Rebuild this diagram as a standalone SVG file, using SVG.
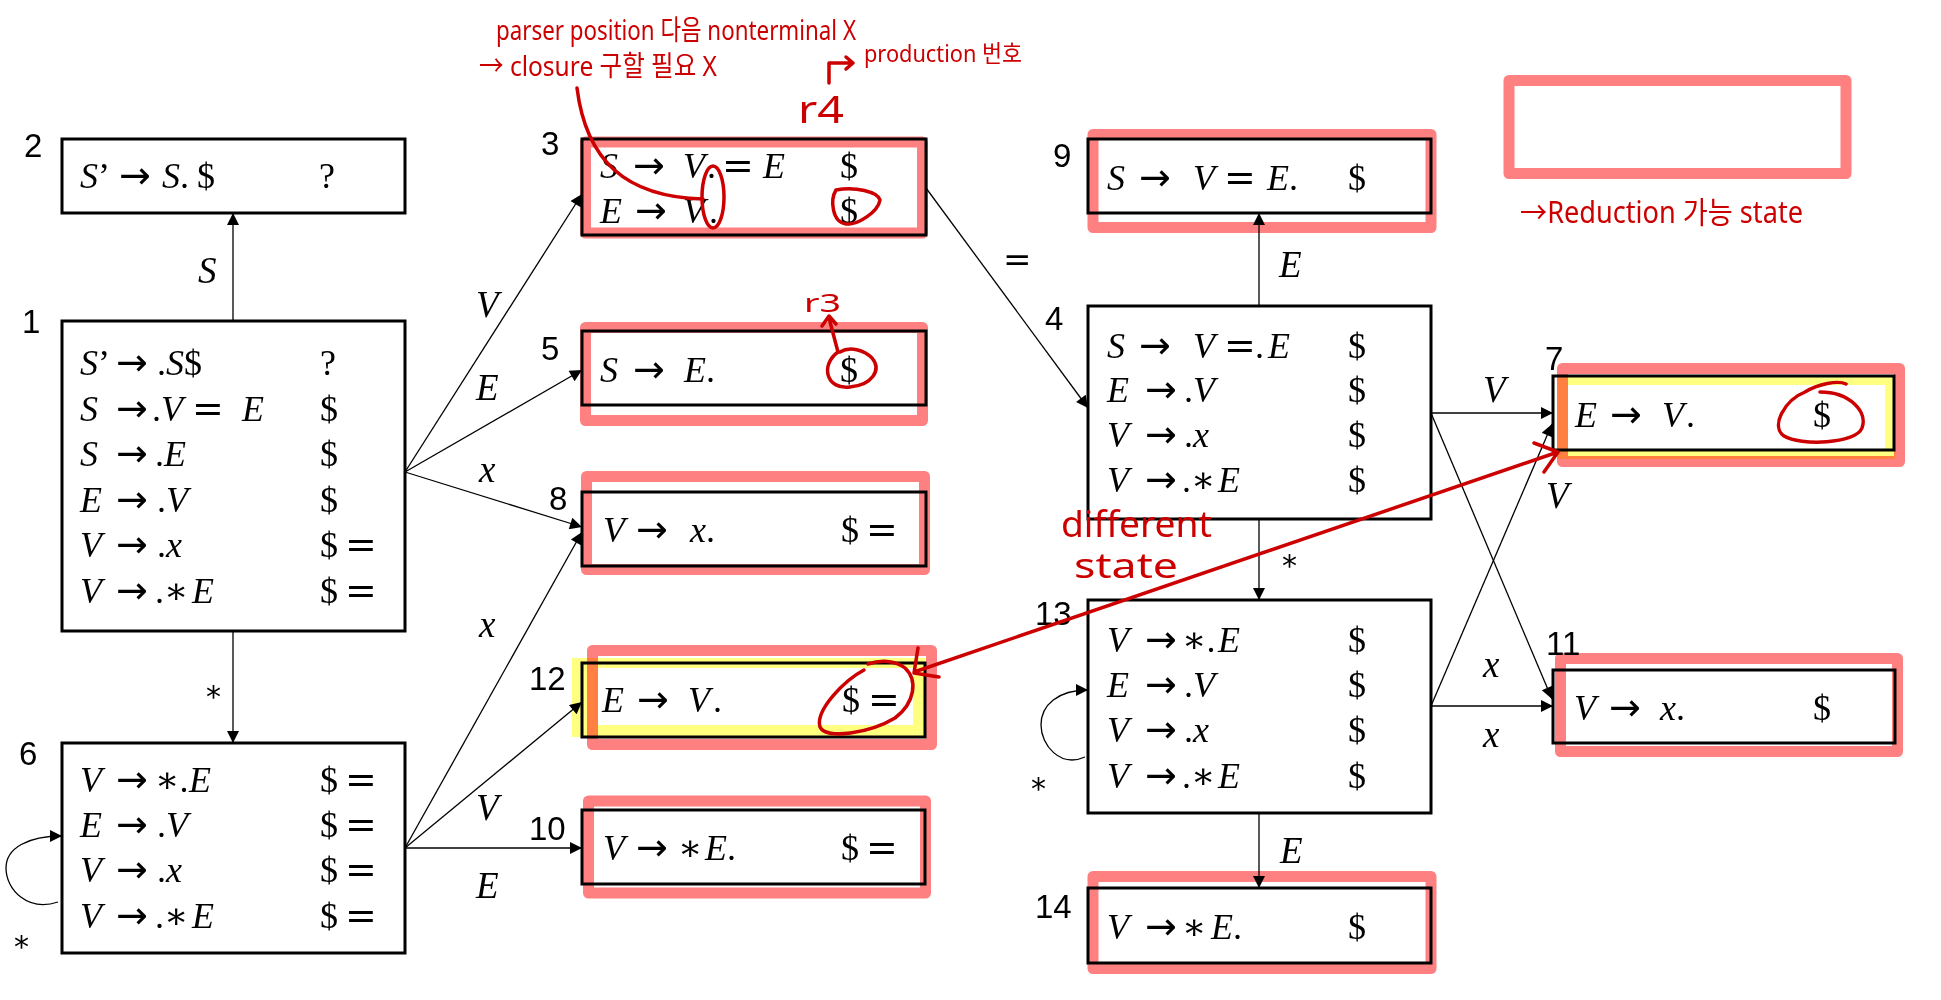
<svg xmlns="http://www.w3.org/2000/svg" width="1941" height="1000" viewBox="0 0 1941 1000">
<defs>
<style>
.box{fill:none;stroke:#000;stroke-width:3}
.hl{fill:none;stroke:#FF8080;stroke-width:11;stroke-linejoin:round}
.yl{fill:#FFFF80;fill-rule:evenodd;mix-blend-mode:multiply}
.m{font-family:"Liberation Serif","DejaVu Serif",serif;font-size:36px;fill:#000}
.i{font-style:italic}
.a{font-family:"DejaVu Sans",sans-serif;font-size:38px;font-style:normal}
.num{font-family:"Liberation Sans",sans-serif;font-size:33px;fill:#000}
.lbl{font-family:"Liberation Serif","DejaVu Serif",serif;font-size:37px;font-style:italic;fill:#000}
.op{font-family:"DejaVu Sans",sans-serif;font-size:34px;fill:#000}
.ast{font-family:"DejaVu Sans",sans-serif;font-size:30px;fill:#000}
.edge{stroke:#000;stroke-width:1.3;fill:none;marker-end:url(#ah)}
.red{stroke:#CC0000;stroke-width:3.5;fill:none;stroke-linecap:round;stroke-linejoin:round}
.rt{font-family:"Noto Sans","Noto Sans CJK KR",sans-serif;fill:#CC0000}
</style>
<marker id="ah" viewBox="0 0 10 10" refX="10" refY="5" markerWidth="16" markerHeight="12" markerUnits="userSpaceOnUse" orient="auto">
<path d="M0,0 L10,5 L0,10 z" fill="#000"/>
</marker>
</defs>
<rect x="0" y="0" width="1941" height="1000" fill="#fff"/>

<g id="node2">
<rect class="box" x="62" y="139" width="343" height="74"/>
<text class="num" x="24" y="157">2</text>
<text class="m" y="188"><tspan x="80" class="i">S</tspan><tspan>’</tspan><tspan x="119" class="a">→</tspan><tspan x="162" class="i">S</tspan><tspan>.</tspan><tspan x="197">$</tspan></text>
<text class="m" x="319" y="188">?</text>
</g>

<g id="node1">
<rect class="box" x="62" y="321" width="343" height="310"/>
<text class="num" x="22" y="333">1</text>
<text class="m" y="375"><tspan x="80" class="i">S</tspan><tspan>’</tspan><tspan x="116" class="a">→</tspan><tspan x="157">.</tspan><tspan class="i">S</tspan><tspan>$</tspan></text>
<text class="m" y="421"><tspan x="80" class="i">S</tspan><tspan x="116" class="a">→</tspan><tspan x="152">.</tspan><tspan class="i">V</tspan><tspan x="192" class="a">=</tspan><tspan x="242" class="i">E</tspan></text>
<text class="m" y="466"><tspan x="80" class="i">S</tspan><tspan x="116" class="a">→</tspan><tspan x="155">.</tspan><tspan class="i">E</tspan></text>
<text class="m" y="512"><tspan x="80" class="i">E</tspan><tspan x="116" class="a">→</tspan><tspan x="157">.</tspan><tspan class="i">V</tspan></text>
<text class="m" y="557"><tspan x="80" class="i">V</tspan><tspan x="116" class="a">→</tspan><tspan x="157">.</tspan><tspan class="i">x</tspan></text>
<text class="m" y="603"><tspan x="80" class="i">V</tspan><tspan x="116" class="a">→</tspan><tspan x="155">.∗</tspan><tspan x="192" class="i">E</tspan></text>
<text class="m" x="320" y="375">?</text>
<text class="m" x="320" y="421">$</text>
<text class="m" x="320" y="466">$</text>
<text class="m" x="320" y="512">$</text>
<text class="m" y="557"><tspan x="320">$</tspan><tspan x="345" class="a">=</tspan></text>
<text class="m" y="603"><tspan x="320">$</tspan><tspan x="345" class="a">=</tspan></text>
</g>

<g id="node6">
<rect class="box" x="62" y="743" width="343" height="210"/>
<text class="num" x="19" y="765">6</text>
<text class="m" y="792"><tspan x="80" class="i">V</tspan><tspan x="116" class="a">→</tspan><tspan x="155">∗.</tspan><tspan x="189" class="i">E</tspan></text>
<text class="m" y="837"><tspan x="80" class="i">E</tspan><tspan x="116" class="a">→</tspan><tspan x="157">.</tspan><tspan class="i">V</tspan></text>
<text class="m" y="882"><tspan x="80" class="i">V</tspan><tspan x="116" class="a">→</tspan><tspan x="157">.</tspan><tspan class="i">x</tspan></text>
<text class="m" y="928"><tspan x="80" class="i">V</tspan><tspan x="116" class="a">→</tspan><tspan x="155">.∗</tspan><tspan x="192" class="i">E</tspan></text>
<text class="m" y="792"><tspan x="320">$</tspan><tspan x="345" class="a">=</tspan></text>
<text class="m" y="837"><tspan x="320">$</tspan><tspan x="345" class="a">=</tspan></text>
<text class="m" y="882"><tspan x="320">$</tspan><tspan x="345" class="a">=</tspan></text>
<text class="m" y="928"><tspan x="320">$</tspan><tspan x="345" class="a">=</tspan></text>
</g>

<g id="node3">
<rect class="hl" x="585.5" y="142" width="337" height="91"/>
<rect class="box" x="582" y="139" width="344" height="96"/>
<text class="num" x="541" y="155">3</text>
<text class="m" y="178"><tspan x="600" class="i">S</tspan><tspan x="633" class="a">→</tspan><tspan x="683" class="i">V</tspan><tspan x="707">.</tspan><tspan x="722" class="a">=</tspan><tspan x="763" class="i">E</tspan></text>
<text class="m" y="223"><tspan x="600" class="i">E</tspan><tspan x="635" class="a">→</tspan><tspan x="683" class="i">V</tspan><tspan x="709">.</tspan></text>
<text class="m" x="840" y="178">$</text>
<text class="m" x="840" y="223">$</text>
</g>

<g id="node5">
<rect class="hl" x="585.5" y="327.5" width="337" height="93"/>
<rect class="box" x="582" y="331" width="344" height="74"/>
<text class="num" x="541" y="360">5</text>
<text class="m" y="382"><tspan x="600" class="i">S</tspan><tspan x="633" class="a">→</tspan><tspan x="684" class="i">E</tspan><tspan>.</tspan></text>
<text class="m" x="840" y="382">$</text>
</g>

<g id="node8">
<rect class="hl" x="586.5" y="476.5" width="338" height="93"/>
<rect class="box" x="582" y="492" width="344" height="74"/>
<text class="num" x="549" y="510">8</text>
<text class="m" y="542"><tspan x="603" class="i">V</tspan><tspan x="636" class="a">→</tspan><tspan x="690" class="i">x</tspan><tspan>.</tspan></text>
<text class="m" y="542"><tspan x="841">$</tspan><tspan x="866" class="a">=</tspan></text>
</g>

<g id="node12">
<rect class="hl" x="592.5" y="650.5" width="339" height="94"/>
<path class="yl" d="M572,658 H925 V737 H572 Z M598,668 V725 H913 V668 Z"/>
<rect class="box" x="582" y="663" width="343" height="74"/>
<text class="num" x="529" y="690">12</text>
<text class="m" y="712"><tspan x="602" class="i">E</tspan><tspan x="637" class="a">→</tspan><tspan x="688" class="i">V</tspan><tspan x="713">.</tspan></text>
<text class="m" y="712"><tspan x="842">$</tspan><tspan x="868" class="a">=</tspan></text>
</g>

<g id="node10">
<rect class="hl" x="588.5" y="801" width="337" height="92"/>
<rect class="box" x="582" y="810" width="343" height="74"/>
<text class="num" x="529" y="840">10</text>
<text class="m" y="860"><tspan x="603" class="i">V</tspan><tspan x="636" class="a">→</tspan><tspan x="678">∗</tspan><tspan x="705" class="i">E</tspan><tspan>.</tspan></text>
<text class="m" y="860"><tspan x="841">$</tspan><tspan x="866" class="a">=</tspan></text>
</g>

<g id="node9">
<rect class="hl" x="1093" y="134.5" width="338" height="93"/>
<rect class="box" x="1088" y="139" width="343" height="74"/>
<text class="num" x="1053" y="167">9</text>
<text class="m" y="190"><tspan x="1107" class="i">S</tspan><tspan x="1139" class="a">→</tspan><tspan x="1193" class="i">V</tspan><tspan x="1224" class="a">=</tspan><tspan x="1267" class="i">E</tspan><tspan>.</tspan></text>
<text class="m" x="1348" y="190">$</text>
</g>

<g id="node4">
<rect class="box" x="1088" y="306" width="343" height="213"/>
<text class="num" x="1045" y="330">4</text>
<text class="m" y="358"><tspan x="1107" class="i">S</tspan><tspan x="1139" class="a">→</tspan><tspan x="1193" class="i">V</tspan><tspan x="1224" class="a">=</tspan><tspan x="1255">.</tspan><tspan x="1268" class="i">E</tspan></text>
<text class="m" y="402"><tspan x="1107" class="i">E</tspan><tspan x="1145" class="a">→</tspan><tspan x="1184">.</tspan><tspan class="i">V</tspan></text>
<text class="m" y="447"><tspan x="1107" class="i">V</tspan><tspan x="1145" class="a">→</tspan><tspan x="1184">.</tspan><tspan class="i">x</tspan></text>
<text class="m" y="492"><tspan x="1107" class="i">V</tspan><tspan x="1145" class="a">→</tspan><tspan x="1182">.∗</tspan><tspan x="1218" class="i">E</tspan></text>
<text class="m" x="1348" y="358">$</text>
<text class="m" x="1348" y="402">$</text>
<text class="m" x="1348" y="447">$</text>
<text class="m" x="1348" y="492">$</text>
</g>

<g id="node13">
<rect class="box" x="1088" y="600" width="343" height="213"/>
<text class="num" x="1035" y="625">13</text>
<text class="m" y="652"><tspan x="1107" class="i">V</tspan><tspan x="1145" class="a">→</tspan><tspan x="1182">∗.</tspan><tspan x="1218" class="i">E</tspan></text>
<text class="m" y="697"><tspan x="1107" class="i">E</tspan><tspan x="1145" class="a">→</tspan><tspan x="1184">.</tspan><tspan class="i">V</tspan></text>
<text class="m" y="742"><tspan x="1107" class="i">V</tspan><tspan x="1145" class="a">→</tspan><tspan x="1184">.</tspan><tspan class="i">x</tspan></text>
<text class="m" y="788"><tspan x="1107" class="i">V</tspan><tspan x="1145" class="a">→</tspan><tspan x="1182">.∗</tspan><tspan x="1218" class="i">E</tspan></text>
<text class="m" x="1348" y="652">$</text>
<text class="m" x="1348" y="697">$</text>
<text class="m" x="1348" y="742">$</text>
<text class="m" x="1348" y="788">$</text>
</g>

<g id="node14">
<rect class="hl" x="1093" y="876.5" width="338" height="92"/>
<rect class="box" x="1088" y="888" width="343" height="75"/>
<text class="num" x="1035" y="918">14</text>
<text class="m" y="939"><tspan x="1107" class="i">V</tspan><tspan x="1145" class="a">→</tspan><tspan x="1182">∗</tspan><tspan x="1211" class="i">E</tspan><tspan>.</tspan></text>
<text class="m" x="1348" y="939">$</text>
</g>

<g id="node7">
<rect class="hl" x="1562.5" y="368.5" width="337" height="93"/>
<path class="yl" d="M1557,375 H1895 V459 H1557 Z M1568,385 V449 H1885 V385 Z"/>
<rect class="box" x="1553" y="376" width="341" height="74"/>
<text class="num" x="1545" y="370">7</text>
<text class="m" y="427"><tspan x="1575" class="i">E</tspan><tspan x="1610" class="a">→</tspan><tspan x="1662" class="i">V</tspan><tspan x="1686">.</tspan></text>
<text class="m" x="1813" y="427">$</text>
</g>

<g id="node11">
<rect class="hl" x="1560.5" y="658.5" width="337" height="93"/>
<rect class="box" x="1553" y="670" width="342" height="73"/>
<text class="num" x="1546" y="655">11</text>
<text class="m" y="720"><tspan x="1574" class="i">V</tspan><tspan x="1609" class="a">→</tspan><tspan x="1660" class="i">x</tspan><tspan>.</tspan></text>
<text class="m" x="1813" y="720">$</text>
</g>

<g id="legend">
<rect class="hl" x="1509" y="80.5" width="337" height="93"/>
<text class="rt" x="1520" y="223" font-size="30" textLength="283" lengthAdjust="spacingAndGlyphs">→Reduction 가능 state</text>
</g>

<g id="connectors">
<path class="edge" d="M233,321 L233,213"/>
<path class="edge" d="M405,472 L582,194"/>
<path class="edge" d="M405,472 L582,370"/>
<path class="edge" d="M405,472 L582,527"/>
<path class="edge" d="M233,631 L233,743"/>
<path class="edge" d="M405,848 L582,532"/>
<path class="edge" d="M405,848 L582,702"/>
<path class="edge" d="M405,848 L582,848"/>
<path class="edge" d="M58,902 C28,912 6,890 6,868 C6,848 28,836 62,836"/>
<path class="edge" d="M926,188 L1088,408"/>
<path class="edge" d="M1259,306 L1259,213"/>
<path class="edge" d="M1431,413 L1553,413"/>
<path class="edge" d="M1431,413 L1552,699"/>
<path class="edge" d="M1259,519 L1259,600"/>
<path class="edge" d="M1431,706 L1552,424"/>
<path class="edge" d="M1431,706 L1553,706"/>
<path class="edge" d="M1085,757 C1060,768 1041,745 1041,725 C1041,705 1058,690 1088,690"/>
<path class="edge" d="M1259,813 L1259,888"/>
<text class="lbl" x="198" y="283">S</text>
<text class="lbl" x="476" y="317">V</text>
<text class="lbl" x="476" y="400">E</text>
<text class="lbl" x="479" y="482">x</text>
<text class="lbl" x="479" y="637">x</text>
<text class="lbl" x="476" y="820">V</text>
<text class="lbl" x="476" y="898">E</text>
<text class="ast" x="206" y="707">*</text>
<text class="ast" x="14" y="957">*</text>
<text class="op" x="1003" y="271">=</text>
<text class="lbl" x="1279" y="277">E</text>
<text class="lbl" x="1483" y="402">V</text>
<text class="lbl" x="1546" y="508">V</text>
<text class="ast" x="1282" y="576">*</text>
<text class="lbl" x="1483" y="677">x</text>
<text class="lbl" x="1483" y="747">x</text>
<text class="ast" x="1031" y="799">*</text>
<text class="lbl" x="1280" y="863">E</text>
</g>

<g id="annotations">
<text class="rt" x="496" y="40" font-size="28" textLength="360" lengthAdjust="spacingAndGlyphs">parser position 다음 nonterminal X</text>
<text class="rt" x="479" y="76" font-size="28" textLength="238" lengthAdjust="spacingAndGlyphs">→ closure 구할 필요 X</text>
<path class="red" d="M829,83 L829,63 L853,63 M846,57 L853,63 L846,69"/>
<text class="rt" x="864" y="62" font-size="24" textLength="158" lengthAdjust="spacingAndGlyphs">production 번호</text>
<text class="rt" x="798" y="123" font-size="38" textLength="46" lengthAdjust="spacingAndGlyphs">r4</text>
<path class="red" d="M577,88 C586,160 625,197 703,199"/>
<ellipse class="red" cx="713" cy="197" rx="11" ry="31"/>
<path class="red" d="M836,190 C855,186 878,192 880,200 C878,212 858,225 846,224 C832,222 830,200 836,190"/>
<text class="rt" x="804" y="312" font-size="26" textLength="37" lengthAdjust="spacingAndGlyphs">r3</text>
<path class="red" d="M838,352 L829,318 M822,326 L829,316 L836,324"/>
<path class="red" d="M838,352 C820,365 826,390 850,387 C872,385 882,370 872,358 C864,350 850,346 840,352"/>
<path class="red" d="M1820,392 C1850,392 1868,412 1862,428 C1856,444 1800,446 1784,436 C1770,426 1785,400 1805,392 C1818,384 1838,380 1846,384"/>
<path class="red" d="M864,670 C845,680 815,710 820,727 C826,740 870,733 895,718 C915,703 918,680 905,668 C895,660 880,660 868,664"/>
<path class="red" d="M917,671 L1558,452 M1534,443 L1558,452 L1544,472 M918,648 L914,673 L939,677"/>
<text class="rt" x="1061" y="537" font-size="37" textLength="151" lengthAdjust="spacingAndGlyphs">different</text>
<text class="rt" x="1074" y="578" font-size="34" textLength="104" lengthAdjust="spacingAndGlyphs">state</text>
</g>
</svg>
